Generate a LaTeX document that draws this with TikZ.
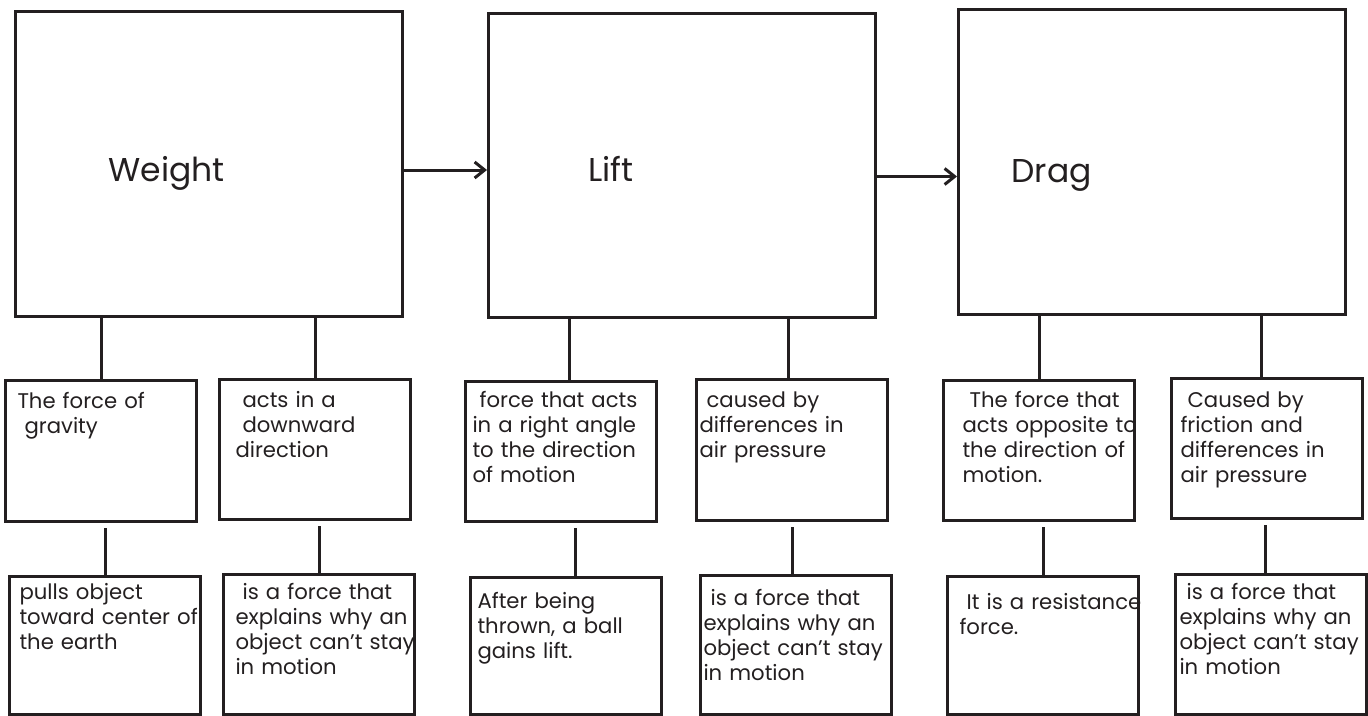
\documentclass[tikz,border=0pt]{standalone}
\usepackage{fontspec}
\setmainfont{Poppins}
\usetikzlibrary{arrows.meta,positioning}
\definecolor{ink}{HTML}{231F20}

\begin{document}
\begin{tikzpicture}[x=1pt, y=-1pt, line width=3pt, color=ink,
    head/.style={draw, anchor=north west, align=left, inner sep=0pt, text width=387pt, font=\fontsize{33}{38}\selectfont, execute at begin node={\leftskip=#1\relax}},
    sub/.style={draw, anchor=north west, align=left, inner sep=0pt, text width=191pt, font=\fontsize{21.2}{25}\selectfont,
        execute at begin node={\leftskip=#1\relax\rightskip=0pt plus 1fil minus 1000pt\relax\hyphenpenalty=10000\relax}},
    link/.style={shorten <=#1}, link/.default=0pt,
    arrow/.style={-{Straight Barb[length=10pt,width=16pt]}}]
    \useasboundingbox (0,0) rectangle (1368,715);

    % the three forces
    \node[head=93pt, text height=170pt, text depth=135pt] (weight) at (14,10) {Weight};
    \node[head=100pt, text height=168pt, text depth=136pt] (lift) at (487,12) {Lift};
    \node[head=53pt, text height=173pt, text depth=132pt] (drag) at (957,8) {Drag};

    % first level
    \node[sub=12pt, text height=28pt, text depth=113pt] (gravity) at (4,379) {The force of\\~gravity};
    \node[sub=16pt, text height=28pt, text depth=112pt] (downward) at (218,378) {~acts in a\\~downward\\direction};
    \node[sub=7pt, text height=26pt, text depth=114pt] (rightangle) at (464,380) {~force that acts\\in a right angle\\to the direction\\of motion};
    \node[sub=3pt, text height=28pt, text depth=113pt] (pressure) at (695,378) {~caused by\\differences in\\air pressure};
    \node[sub=19pt, text height=27pt, text depth=113pt] (opposite) at (942,379) {~The force that\\acts opposite to\\the direction of\\motion.};
    \node[sub=9pt, text height=29pt, text depth=111pt] (friction) at (1170,377) {~Caused by\\friction and\\differences in\\air pressure};

    % second level
    \node[sub=10pt, text height=23pt, text depth=115pt] (pulls) at (8,575) {pulls object\\toward center of\\the earth};
    \node[sub=12pt, text height=25pt, text depth=115pt] (explainsw) at (222,573) {~is a force that\\explains why an\\object can’t stay\\in motion};
    \node[sub=7pt, text height=31pt, text depth=106pt] (thrown) at (469,576) {After being\\thrown, a ball\\gains lift.};
    \node[sub=3pt, text height=30pt, text depth=109pt] (explainsl) at (699,574) {~is a force that\\explains why an\\object can’t stay\\in motion};
    \node[sub=12pt, text height=33pt, text depth=105pt] (resistance) at (946,575) {~It is a resistance\\force.};
    \node[sub=4pt, text height=25pt, text depth=115pt] (explainsd) at (1174,573) {~is a force that\\explains why an\\object can’t stay\\in motion};

    \draw[arrow] ([yshift=-6pt]weight.east) -- ([yshift=-6pt]weight.east -| lift.west);
    \draw[arrow] ([yshift=-11pt]lift.east) -- ([yshift=-11pt]lift.east -| drag.west);

    \draw (weight.south -| gravity.north) -- (gravity.north);
    \draw (weight.south -| downward.north) -- (downward.north);
    \draw ([xshift=8pt]rightangle.north |- lift.south) -- ([xshift=8pt]rightangle.north);
    \draw ([xshift=-4pt]pressure.north |- lift.south) -- ([xshift=-4pt]pressure.north);
    \draw (drag.south -| opposite.north) -- (opposite.north);
    \draw ([xshift=-6pt]friction.north |- drag.south) -- ([xshift=-6pt]friction.north);

    \draw[link=5pt] (gravity.south -| pulls.north) -- (pulls.north);
    \draw[link=5pt] (downward.south -| explainsw.north) -- (explainsw.north);
    \draw[link=5pt] ([xshift=9pt]thrown.north |- rightangle.south) -- ([xshift=9pt]thrown.north);
    \draw[link=5pt] ([xshift=-4pt]explainsl.north |- pressure.south) -- ([xshift=-4pt]explainsl.north);
    \draw[link=5pt] (opposite.south -| resistance.north) -- (resistance.north);
    \draw[link=5pt] ([xshift=-6pt]explainsd.north |- friction.south) -- ([xshift=-6pt]explainsd.north);
\end{tikzpicture}
\end{document}
